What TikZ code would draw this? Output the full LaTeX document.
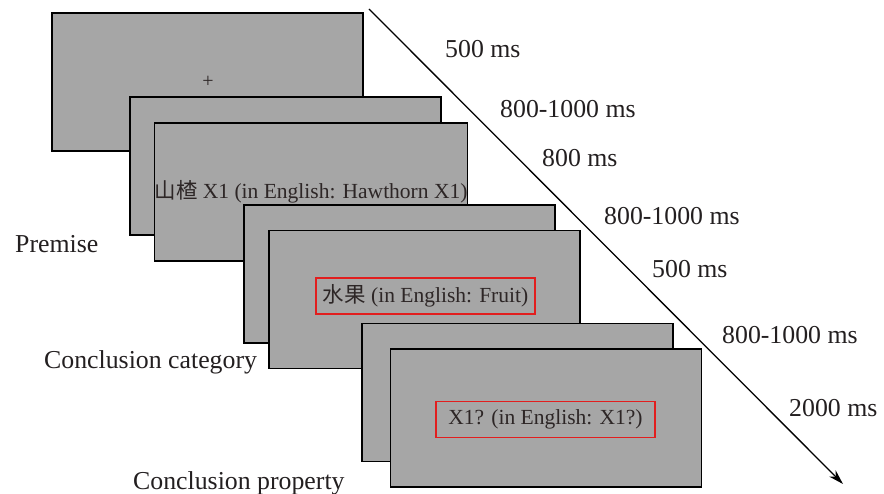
\documentclass[tikz,border=0pt]{standalone}
\usepackage{fontspec}
\setmainfont{Liberation Serif}
\newfontfamily\cjkfont{Noto Sans CJK SC}
\usetikzlibrary{arrows.meta}
\definecolor{screengray}{RGB}{166,166,166}
\definecolor{inktext}{RGB}{35,31,32}
\definecolor{boxtext}{RGB}{45,38,38}
\definecolor{redframe}{RGB}{226,30,30}
\begin{document}
\begin{tikzpicture}[x=1pt,y=-1pt,
  screen/.style={draw=black,line width=1.6pt,fill=screengray,minimum width=311pt,minimum height=138pt,inner sep=0pt,text=boxtext,font=\fontsize{21.5}{24}\selectfont},
  redbox/.style={draw=redframe,line width=1.6pt,minimum width=219pt,minimum height=36pt,inner sep=0pt,text=boxtext,font=\fontsize{21.5}{24}\selectfont},
  timelabel/.style={anchor=base west,inner sep=0pt,text=inktext,font=\fontsize{25.8}{30}\selectfont},
  phaselabel/.style={anchor=base west,inner sep=0pt,text=inktext,font=\fontsize{25.8}{30}\selectfont}]
\useasboundingbox (0,0) rectangle (884,494);
% screens
\node[screen] (s1) at (207.5,82) {};
\node[inner sep=0pt,text=boxtext,font=\fontsize{20}{20}\selectfont] (fix) at (208,82) {+};
\node[screen] (s2) at (285.5,166) {};
\node[screen] (s3) at (311,192) {{\cjkfont 山楂} X1 (in English: Hawthorn X1)};
\node[screen] (s4) at (399.5,274) {};
\node[screen] (s5) at (424.5,299.5) {};
\node[redbox] (r1) at (425.5,296) {{\cjkfont 水果} (in English: Fruit)};
\node[screen] (s6) at (517.5,392.5) {};
\node[screen] (s7) at (546,418) {};
\node[redbox] (r2) at (545.5,419.5) {X1? (in English: X1?)};
% time arrow
\coordinate (tstart) at (369,9);
\coordinate (tend) at (843,484);
\draw[line width=1.3pt,-{Stealth[length=15pt,width=9pt]}] (tstart) -- (tend);
% time labels
\node[timelabel] (t1) at (445,58) {500 ms};
\node[timelabel] (t2) at (500,118) {800-1000 ms};
\node[timelabel] (t3) at (542,167) {800 ms};
\node[timelabel] (t4) at (604,225) {800-1000 ms};
\node[timelabel] (t5) at (652,278) {500 ms};
\node[timelabel] (t6) at (722,344) {800-1000 ms};
\node[timelabel] (t7) at (789,417) {2000 ms};
% phase labels
\node[phaselabel] (p1) at (15,253) {Premise};
\node[phaselabel] (p2) at (44,369) {Conclusion category};
\node[phaselabel] (p3) at (133,489) {Conclusion property};
\end{tikzpicture}
\end{document}
